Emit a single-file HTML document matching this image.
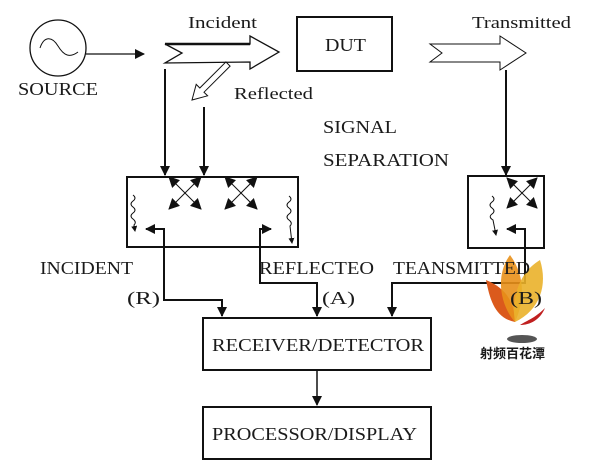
<!DOCTYPE html>
<html><head><style>body{margin:0;background:#fff}svg{display:block}text{font-family:"Liberation Serif",serif;fill:#1a1a1a}</style></head><body>
<svg width="612" height="464" viewBox="0 0 612 464" xmlns="http://www.w3.org/2000/svg">
<defs><marker id="a" markerWidth="10" markerHeight="10" refX="9" refY="5" orient="auto" markerUnits="userSpaceOnUse"><path d="M0,0 L10,5 L0,10z" fill="#111"/></marker>
<marker id="b" markerWidth="11" markerHeight="11" refX="10" refY="5.5" orient="auto" markerUnits="userSpaceOnUse"><path d="M0,0 L11,5.5 L0,11z" fill="#111"/></marker>
<marker id="s" markerWidth="6" markerHeight="6" refX="5" refY="3" orient="auto" markerUnits="userSpaceOnUse"><path d="M0,0 L6,3 L0,6z" fill="#111"/></marker></defs>
<g stroke="#111" fill="none">
<circle cx="58" cy="48" r="28" stroke-width="1.3"/>
<path d="M40,48 C44,36 52,36 58,46 C64,56 70,58 78,52" stroke-width="1"/>
<line x1="86" y1="54" x2="144" y2="54" stroke-width="1.3" marker-end="url(#a)"/>
<path d="M165,44 L250,44 L250,36 L279,52 L250,69 L250,62 L165,63 L182,53z" stroke-width="1.3"/>
<path d="M250,44 L165,44" stroke-width="2.5"/>
<path d="M230.1,66.1 L204,92.2 L207.6,95.8 L192,100 L196.2,84.4 L199.8,88 L225.9,61.9z" stroke-width="1"/>
<rect x="297" y="17" width="95" height="54" stroke-width="2"/>
<path d="M430,44 L500,44 L500,36 L526,53 L500,70 L500,62 L430,62 L442,53z" stroke-width="1"/>
<line x1="506" y1="70" x2="506" y2="175" stroke-width="2" marker-end="url(#a)"/>
<line x1="165" y1="69" x2="165" y2="175" stroke-width="2" marker-end="url(#a)"/>
<line x1="204" y1="107" x2="204" y2="175" stroke-width="2" marker-end="url(#a)"/>
<rect x="127" y="177" width="171" height="70" stroke-width="2"/>
<rect x="468" y="176" width="76" height="72" stroke-width="2"/>
<g stroke-width="1">
<line x1="185" y1="193" x2="201" y2="209" marker-end="url(#b)"/><line x1="185" y1="193" x2="169" y2="177" marker-end="url(#b)"/>
<line x1="185" y1="193" x2="201" y2="177" marker-end="url(#b)"/><line x1="185" y1="193" x2="169" y2="209" marker-end="url(#b)"/>
<line x1="241" y1="193" x2="257" y2="209" marker-end="url(#b)"/><line x1="241" y1="193" x2="225" y2="177" marker-end="url(#b)"/>
<line x1="241" y1="193" x2="257" y2="177" marker-end="url(#b)"/><line x1="241" y1="193" x2="225" y2="209" marker-end="url(#b)"/>
<line x1="522" y1="193" x2="537" y2="208" marker-end="url(#b)"/><line x1="522" y1="193" x2="507" y2="178" marker-end="url(#b)"/>
<line x1="522" y1="193" x2="537" y2="178" marker-end="url(#b)"/><line x1="522" y1="193" x2="507" y2="208" marker-end="url(#b)"/>
<path d="M133,195 q4,3 0,6 q-4,3 0,6 q4,3 0,6 q-4,3 0,6 q4,3 1,6 L135,231" marker-end="url(#s)"/>
<path d="M289,196 q4,3 0,6 q-4,3 0,6 q4,3 0,6 q-4,3 0,6 q4,3 1,6 L292,243" marker-end="url(#s)"/>
<path d="M492,196 q4,3 0,6 q-4,3 0,6 q4,3 0,6 q-4,3 1,6 L496,235" marker-end="url(#s)"/>
</g>
<polyline points="164,247 164,229 146,229" stroke-width="2" marker-end="url(#a)"/>
<polyline points="164,247 164,300 222,300 222,316" stroke-width="2" marker-end="url(#a)"/>
<polyline points="260,247 260,229 271,229" stroke-width="2" marker-end="url(#a)"/>
<polyline points="260,247 260,283 317,283 317,316" stroke-width="2" marker-end="url(#a)"/>
<polyline points="525,248 525,229 507,229" stroke-width="2" marker-end="url(#a)"/>
<polyline points="525,248 525,283 392,283 392,316" stroke-width="2" marker-end="url(#a)"/>
<rect x="203" y="318" width="228" height="52" stroke-width="2"/>
<line x1="317" y1="370" x2="317" y2="405" stroke-width="1.5" marker-end="url(#a)"/>
<rect x="203" y="407" width="228" height="52" stroke-width="2"/>
</g>
<g stroke="none">
<path d="M486,280 C490,300 495,318 515,322 C514,300 505,288 486,280z" fill="#db5a1c"/>
<path d="M510,255 C495,275 500,305 515,322 C525,300 525,275 510,255z" fill="#e8901a" opacity=".9"/>
<path d="M540,260 C515,275 512,305 515,322 C540,310 548,285 540,260z" fill="#eab12a" opacity=".9"/>
<path d="M520,325 C530,325 540,320 545,308 C535,318 528,320 520,325z" fill="#c02020"/>
<ellipse cx="522" cy="339" rx="15" ry="4" fill="#555"/>
</g>
<g font-size="18">
<text x="188" y="28" font-size="17" textLength="69" lengthAdjust="spacingAndGlyphs">Incident</text>
<text x="472" y="28" font-size="17" textLength="99" lengthAdjust="spacingAndGlyphs">Transmitted</text>
<text x="234" y="99" font-size="17" textLength="79" lengthAdjust="spacingAndGlyphs">Reflected</text>
<text x="18" y="95" textLength="80" lengthAdjust="spacingAndGlyphs">SOURCE</text>
<text x="325" y="51" textLength="41" lengthAdjust="spacingAndGlyphs">DUT</text>
<text x="323" y="133" textLength="74" lengthAdjust="spacingAndGlyphs">SIGNAL</text>
<text x="323" y="166" textLength="126" lengthAdjust="spacingAndGlyphs">SEPARATION</text>
<text x="40" y="274" textLength="93" lengthAdjust="spacingAndGlyphs">INCIDENT</text>
<text x="259" y="274" textLength="115" lengthAdjust="spacingAndGlyphs">REFLECTEO</text>
<text x="393" y="274" textLength="137" lengthAdjust="spacingAndGlyphs">TEANSMITTED</text>
<text x="127" y="304" textLength="33" lengthAdjust="spacingAndGlyphs">(R)</text>
<text x="322" y="304" textLength="33" lengthAdjust="spacingAndGlyphs">(A)</text>
<text x="510" y="304" textLength="32" lengthAdjust="spacingAndGlyphs">(B)</text>
<text x="212" y="351" textLength="212" lengthAdjust="spacingAndGlyphs">RECEIVER/DETECTOR</text>
<text x="212" y="440" textLength="205" lengthAdjust="spacingAndGlyphs">PROCESSOR/DISPLAY</text>
<text x="480" y="358" font-size="13" font-weight="bold" style="font-family:'Noto Sans CJK SC',sans-serif">射频百花潭</text>
</g>
</svg>
</body></html>
